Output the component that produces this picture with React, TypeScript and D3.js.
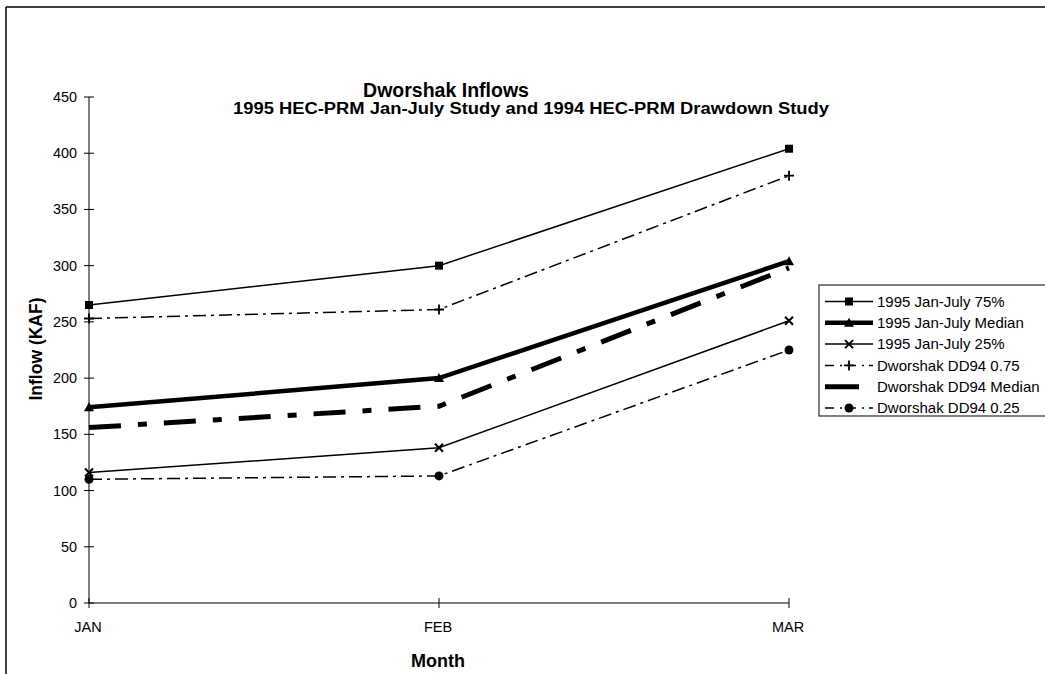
import React from "react";
import * as d3 from "d3";

const months = ["JAN", "FEB", "MAR"];
const yTicks = [0, 50, 100, 150, 200, 250, 300, 350, 400, 450];

const jj75 = [265, 300, 404];
const jjMedian = [174, 200, 304];
const jj25 = [116, 138, 251];
const dd75 = [253, 261, 380];
const ddMedian = [156, 175, 298];
const dd25 = [110, 113, 225];

const seriesNames = [
  "1995 Jan-July 75%",
  "1995 Jan-July Median",
  "1995 Jan-July 25%",
  "Dworshak DD94 0.75",
  "Dworshak DD94 Median",
  "Dworshak DD94 0.25",
];

type Marker = "square" | "triangle" | "x" | "plus" | "none" | "circle";
const seriesData = [jj75, jjMedian, jj25, dd75, ddMedian, dd25];
const styles: { w: number; dash: string | null; marker: Marker }[] = [
  { w: 1.5, dash: null, marker: "square" },
  { w: 4.5, dash: null, marker: "triangle" },
  { w: 1.5, dash: null, marker: "x" },
  { w: 1.5, dash: "13,5,3,5", marker: "plus" },
  { w: 5, dash: "32,17,9,17", marker: "none" },
  { w: 1.5, dash: "13,5,3,5", marker: "circle" },
];

const font = "'Liberation Sans', Arial, sans-serif";

function MarkerShape({ type, x, y }: { type: Marker; x: number; y: number }) {
  const s = 4;
  switch (type) {
    case "square":
      return <rect x={x - s} y={y - s} width={2 * s} height={2 * s} fill="#000" />;
    case "triangle":
      return <path d={`M${x},${y - 5}L${x + 5},${y + 4}L${x - 5},${y + 4}Z`} fill="#000" />;
    case "x":
      return (
        <path d={`M${x - s},${y - s}L${x + s},${y + s}M${x - s},${y + s}L${x + s},${y - s}`} stroke="#000" strokeWidth={2} />
      );
    case "plus":
      return <path d={`M${x - 5},${y}L${x + 5},${y}M${x},${y - 5}L${x},${y + 5}`} stroke="#000" strokeWidth={1.8} />;
    case "circle":
      return <circle cx={x} cy={y} r={4.5} fill="#000" />;
    default:
      return null;
  }
}

export default function App() {
  const W = 1045, H = 674;
  const x = d3.scalePoint<string>().domain(months).range([89, 789]);
  const y = d3.scaleLinear().domain([0, 450]).range([603, 97]);
  const line = d3
    .line<number>()
    .x((_, i) => x(months[i]) as number)
    .y((d) => y(d));

  const legX = 819, legY = 285, legRow = 21.3;

  return (
    <svg width={W} height={H} style={{ position: "absolute", left: 0, top: 0, background: "#fff" }} fontFamily={font}>
      <rect x={0} y={0} width={W} height={H} fill="#fff" />
      {/* outer frame */}
      <line x1={6} y1={7} x2={W} y2={7} stroke="#000" strokeWidth={1.5} />
      <line x1={6} y1={7} x2={6} y2={H} stroke="#000" strokeWidth={1.5} />

      {/* titles */}
      <text x={446} y={97} textAnchor="middle" fontSize={19.5} fontWeight="bold">Dworshak Inflows</text>
      <text x={233} y={114} fontSize={16} fontWeight="bold" textLength={596} lengthAdjust="spacingAndGlyphs">1995 HEC-PRM Jan-July Study and 1994 HEC-PRM Drawdown Study</text>

      {/* axes */}
      <line x1={89} y1={y(0)} x2={89} y2={y(450)} stroke="#000" strokeWidth={1} />
      <line x1={89} y1={y(0)} x2={789} y2={y(0)} stroke="#000" strokeWidth={1} />
      {yTicks.map((t) => (
        <g key={t}>
          <line x1={84} x2={94} y1={y(t)} y2={y(t)} stroke="#000" strokeWidth={1} />
          <text x={77} y={y(t) + 5} textAnchor="end" fontSize={14.4}>{t}</text>
        </g>
      ))}
      {months.map((m) => (
        <g key={m}>
          <line x1={x(m)} x2={x(m)} y1={y(0) - 5} y2={y(0) + 5} stroke="#000" strokeWidth={1} />
          <text x={(x(m) as number) - 1} y={632} textAnchor="middle" fontSize={14.5}>{m}</text>
        </g>
      ))}
      <text x={438} y={667} textAnchor="middle" fontSize={18} fontWeight="bold">Month</text>
      <text transform={`translate(42,349) rotate(-90)`} textAnchor="middle" fontSize={17.5} fontWeight="bold">Inflow (KAF)</text>

      {/* series */}
      {seriesData.map((d, i) => (
        <g key={i}>
          <path d={line(d) || ""} fill="none" stroke="#000" strokeWidth={styles[i].w} strokeDasharray={styles[i].dash || undefined} />
          {d.map((v, j) => (
            <MarkerShape key={j} type={styles[i].marker} x={x(months[j]) as number} y={y(v)} />
          ))}
        </g>
      ))}

      {/* legend */}
      <rect x={legX} y={legY} width={240} height={131} fill="#fff" stroke="#000" strokeWidth={1} />
      {seriesNames.map((n, i) => {
        const cy = legY + 16.5 + i * legRow;
        const st = styles[i];
        const isDDMedian = i === 4;
        return (
          <g key={n}>
            {isDDMedian ? (
              <line x1={825} x2={859} y1={cy} y2={cy} stroke="#000" strokeWidth={5} />
            ) : (
              <line x1={825} x2={873} y1={cy} y2={cy} stroke="#000" strokeWidth={st.w}
                strokeDasharray={st.dash ? "9,6,2,5" : undefined} />
            )}
            <MarkerShape type={st.marker} x={849} y={cy} />
            <text x={877} y={cy + 5.3} fontSize={15}>{n}</text>
          </g>
        );
      })}
    </svg>
  );
}
